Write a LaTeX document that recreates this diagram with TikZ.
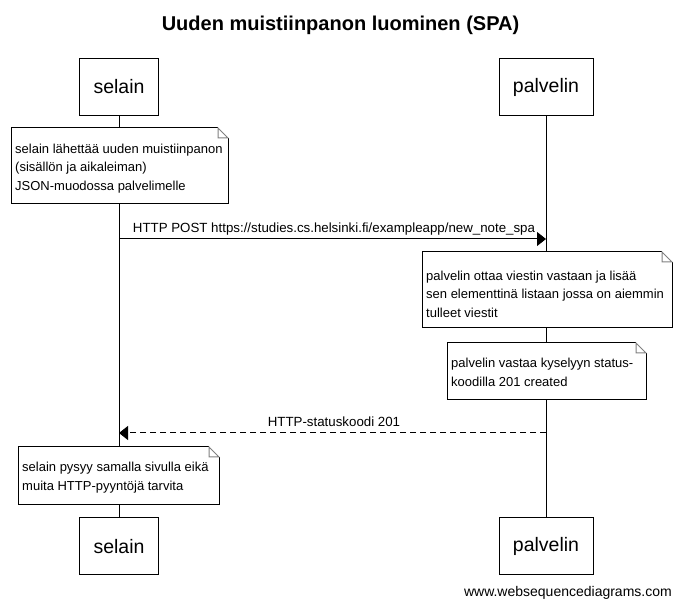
\documentclass[tikz,border=0pt]{standalone}
\usepackage{fontspec}
\setmainfont{Liberation Sans}
\usetikzlibrary{arrows.meta}

\tikzset{
    actor/.style={draw, line width=1pt, inner sep=0pt, font=\fontsize{19.5}{22}\selectfont},
    notebox/.style={fill=white},
    noteline/.style={draw, line width=1pt},
    notefold/.style={draw=gray, line width=1pt},
    notetext/.style={align=left, inner sep=0pt, anchor=west, font=\fontsize{13}{18.5}\selectfont},
    msg/.style={line width=1pt, -{Triangle[length=9pt, width=14pt]}},
    reply/.style={msg, dash pattern=on 6pt off 4pt},
    msglabel/.style={anchor=base, inner sep=0pt, font=\fontsize{13.3}{16}\selectfont},
}

\begin{document}
\begin{tikzpicture}[x=1pt, y=-1pt]
\useasboundingbox (0,0) rectangle (681,609);

\node[font=\bfseries\fontsize{20}{24}\selectfont] (title) at (340.5,25) {Uuden muistiinpanon luominen (SPA)};

% Draw participants, top and bottom.
\foreach \who/\x/\w in {selain/119/79, palvelin/546/94}
{
    \node[actor, minimum width=\w, minimum height=57] (\who-top) at (\x, 87) {\who};
    \node[actor, minimum width=\w, minimum height=57] (\who-bot) at (\x, 546.5) {\who};
}

% Draw lifelines.
\draw[line width=1pt] (selain-top) -- (selain-bot);
\draw[line width=1pt] (palvelin-top) -- (palvelin-bot);

% Draw note boxes.
\foreach \xa/\ya/\xb/\yb in {11/128/228/204, 422/252/672/328, 447/343/646/400, 18/447/219/505}
{
    \fill[notebox] (\xa,\ya) -- (\xb-10,\ya) -- (\xb,\ya+10) -- (\xb,\yb) -- (\xa,\yb) -- cycle;
    \draw[noteline] (\xb-10,\ya) -- (\xa,\ya) -- (\xa,\yb) -- (\xb,\yb) -- (\xb,\ya+10);
    \draw[notefold] (\xb-10,\ya) -- (\xb-10,\ya+10) -- (\xb,\ya+10) -- cycle;
}

% Note texts.
\node[notetext] (send-note) at (15,168.5) {selain lähettää uuden muistiinpanon\\(sisällön ja aikaleiman)\\JSON-muodossa palvelimelle};
\node[notetext] (store-note) at (426,294) {palvelin ottaa viestin vastaan ja lisää\\sen elementtinä listaan jossa on aiemmin\\tulleet viestit};
\node[notetext] (answer-note) at (451,372.5) {palvelin vastaa kyselyyn status-\\koodilla 201 created};
\node[notetext] (stay-note) at (22,477.5) {selain pysyy samalla sivulla eikä\\muita HTTP-pyyntöjä tarvita};

% Draw messages.
\coordinate (post-from) at (119,239);
\coordinate (post-to) at (546,239);
\draw[msg] (post-from) -- (post-to);
\node[msglabel] (post-label) at (334,233) {HTTP POST https://studies.cs.helsinki.fi/exampleapp/new\_note\_spa};

\coordinate (ack-from) at (546,433);
\coordinate (ack-to) at (119,433);
\draw[reply] (ack-from) -- (ack-to);
\node[msglabel] (ack-label) at (334,427) {HTTP-statuskoodi 201};

\node[anchor=base east, inner sep=0pt, font=\fontsize{14}{16}\selectfont] (credit) at (672,597) {www.websequencediagrams.com};

\end{tikzpicture}
\end{document}
